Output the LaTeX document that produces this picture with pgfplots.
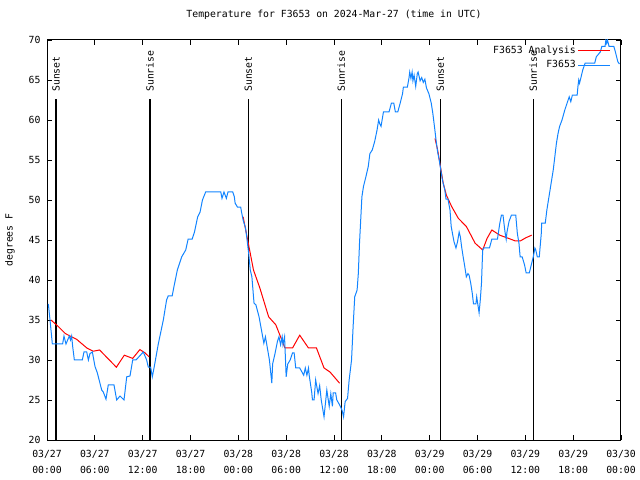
\documentclass[border=0pt]{standalone}
\usepackage{fontspec}
\setmainfont{DejaVu Sans Mono}
\usepackage{pgfplots}
\pgfplotsset{compat=1.18}
\definecolor{obsblue}{RGB}{18,132,255}
\begin{document}
\fontsize{9.8bp}{12bp}\selectfont
\begin{tikzpicture}
\useasboundingbox (0,0) rectangle (640bp,480bp);
\begin{axis}[
  at={(47bp,40bp)}, anchor=south west,
  scale only axis, width=574bp, height=400bp,
  xmin=0, xmax=72, ymin=20, ymax=70,
  xtick={0,6,...,72},
  xticklabels={{03/27\\00:00},{03/27\\06:00},{03/27\\12:00},{03/27\\18:00},{03/28\\00:00},{03/28\\06:00},{03/28\\12:00},{03/28\\18:00},{03/29\\00:00},{03/29\\06:00},{03/29\\12:00},{03/29\\18:00},{03/30\\00:00}},
  ytick={20,25,...,70},
  tick align=inside, major tick length=5bp,
  tick style={black, line width=0.8bp},
  axis line style={black, line width=1bp},
  xticklabel style={align=center, font=\fontsize{9.8bp}{16bp}\selectfont, yshift=-7bp},
  yticklabel style={font=\fontsize{9.8bp}{12bp}\selectfont, xshift=-3bp},
  /pgf/number format/assume math mode=true,
  title={Temperature for F3653 on 2024-Mar-27 (time in UTC)},
  title style={at={(axis description cs:0.5,1)}, anchor=base, yshift=17bp, font=\fontsize{9.8bp}{12bp}\selectfont},
  ylabel={degrees F},
  ylabel style={at={(axis description cs:-0.0645,0.5)}, anchor=center, font=\fontsize{9.8bp}{12bp}\selectfont},
  unbounded coords=jump,
  legend style={draw=none, fill=none, at={(axis description cs:1,1)}, anchor=north east, xshift=-10bp, yshift=-4bp, font=\fontsize{9.8bp}{12bp}\selectfont, row sep=1.5bp, inner sep=0pt},
  legend cell align=right,
  legend plot pos=right,
  legend image code/.code={\draw[#1, line width=1bp] (0bp,0bp) -- (32bp,0bp);},
]
% sunrise / sunset lines
\addplot[black, line width=1.5bp, forget plot] coordinates {(1.13,20) (1.13,62.6)};
\addplot[black, line width=1.5bp, forget plot] coordinates {(12.92,20) (12.92,62.6)};
\addplot[black, line width=1.5bp, forget plot] coordinates {(25.25,20) (25.25,62.6)};
\addplot[black, line width=1.5bp, forget plot] coordinates {(36.92,20) (36.92,62.6)};
\addplot[black, line width=1.5bp, forget plot] coordinates {(49.33,20) (49.33,62.6)};
\addplot[black, line width=1.5bp, forget plot] coordinates {(61.0,20) (61.0,62.6)};
\node[rotate=90, anchor=west, inner sep=0pt] at (axis cs:1.13,63.5) {Sunset};
\node[rotate=90, anchor=west, inner sep=0pt] at (axis cs:12.92,63.5) {Sunrise};
\node[rotate=90, anchor=west, inner sep=0pt] at (axis cs:25.25,63.5) {Sunset};
\node[rotate=90, anchor=west, inner sep=0pt] at (axis cs:36.92,63.5) {Sunrise};
\node[rotate=90, anchor=west, inner sep=0pt] at (axis cs:49.33,63.5) {Sunset};
\node[rotate=90, anchor=west, inner sep=0pt] at (axis cs:61.0,63.5) {Sunrise};
% analysis
\addplot[red, line width=1bp] coordinates {
(0.5,35.0) (1.4,34.2) (2.3,33.3) (3.7,32.6) (5.0,31.5) (5.8,31.1) (6.6,31.25) (8.7,29.1) (9.7,30.6) (10.75,30.2) (11.65,31.3) (12.29,30.9) (12.8,30.4)
(12.9,nan)
(24.6,47.9) (25.25,44.6) (25.9,41.25) (26.7,39.0) (27.8,35.4) (28.7,34.4) (29.85,31.5) (30.8,31.5) (31.7,33.1) (32.8,31.5) (33.8,31.5) (34.75,29.0) (35.5,28.5) (36.7,27.1)
(37,nan)
(48.67,57.7) (49.0,56.25) (49.7,52.1) (50.1,50.6) (50.75,49.2) (51.6,47.7) (52.6,46.7) (53.7,44.6) (54.65,43.75) (55.2,45.2) (55.8,46.25) (56.8,45.6) (57.9,45.2) (58.7,44.9) (59.4,44.9) (60.1,45.3) (60.8,45.6)
};
\addlegendentry{F3653 Analysis}
% observations
\addplot[obsblue, line width=1bp] coordinates {
(0.17,37) (0.38,35) (0.67,32) (1.96,32) (2.13,33) (2.38,32) (2.80,33) (2.95,32.5) (3.09,33) (3.22,31.7) (3.43,30) (4.43,30) (4.64,31) (4.98,31) (5.19,30) (5.39,30.8) (5.69,31) (6.02,29.2) (6.31,28.4) (6.86,26.25) (7.06,26) (7.40,25.1) (7.69,26.9) (8.40,26.9) (8.74,25) (9.16,25.5) (9.66,25) (10.00,27.9) (10.41,28) (10.75,30) (11.16,30) (12.08,31) (12.50,30) (12.71,29.1) (13.00,29.1) (13.21,27.9) (13.46,29.2) (13.96,32) (14.59,35) (15.0,37.5) (15.2,38) (15.7,38) (15.93,39.2) (16.35,41.25) (16.9,42.9) (17.4,43.75) (17.7,45.1) (18.2,45.1) (18.5,46.0) (18.9,47.9) (19.2,48.5) (19.5,50) (19.9,51) (21.8,51) (21.95,50.2) (22.2,51) (22.5,50.2) (22.7,51) (23.3,51) (23.5,50.4) (23.6,49.6) (23.9,49.1) (24.3,49.1) (24.4,48.5) (24.6,47.5) (24.9,46.5) (25.05,45.4) (25.3,43.3) (25.5,41.25) (25.7,40.4) (25.97,37.1) (26.2,36.9) (26.6,35.4) (26.9,33.75) (27.2,32.1) (27.4,32.9) (27.9,30) (28.2,27.1) (28.3,29.5) (28.6,30.8) (28.9,32.3) (29.1,32.9) (29.3,31.9) (29.5,32.9) (29.6,31.9) (29.8,32.9) (30.0,27.9) (30.2,29.5) (30.5,30) (30.8,30.9) (31.0,30.9) (31.2,29.0) (31.7,29.0) (32.2,28.1) (32.4,29.0) (32.6,28.1) (32.8,29.0) (32.9,28.0) (33.2,26.0) (33.3,25.0) (33.5,25.0) (33.7,27.5) (34.0,25.8) (34.2,26.8) (34.4,25.0) (34.75,22.9) (35.1,26.25) (35.4,24.2) (35.6,25.8) (35.8,24.2) (35.9,25.9) (36.2,25.9) (36.35,25) (36.7,24.4) (37.0,23.75) (37.2,22.9) (37.4,24.8) (37.7,25.2) (37.9,27.5) (38.2,30) (38.4,34.2) (38.6,37.9) (38.9,38.75) (39.05,40.8) (39.2,44.6) (39.5,50.4) (39.7,51.7) (40.0,52.9) (40.3,54.2) (40.5,55.8) (40.8,56.25) (41.1,57.3) (41.4,58.75) (41.6,60) (41.75,59.5) (41.9,59.2) (42.2,61.0) (42.9,61.0) (43.2,62.1) (43.5,62.1) (43.7,61.0) (44.0,61.0) (44.3,62.1) (44.6,63.3) (44.7,64.1) (45.2,64.1) (45.4,65.2) (45.5,66.0) (45.65,65.2) (45.8,66.0) (45.9,64.9) (46.05,65.6) (46.25,64.2) (46.45,65.8) (46.55,66.0) (46.8,64.9) (47.0,65.3) (47.2,64.7) (47.4,65.1) (47.6,64.0) (47.9,63.3) (48.2,62.1) (48.4,60.8) (48.6,59.2) (48.8,57.5) (49.0,56.0) (49.2,55) (49.4,53.75) (49.6,52.5) (49.9,51.25) (50.05,50.1) (50.3,50.1) (50.55,48.75) (50.7,46.7) (50.9,45.6) (51.05,44.8) (51.3,44.0) (51.5,44.8) (51.7,46.0) (51.85,45.4) (52.0,44.2) (52.2,42.9) (52.4,41.7) (52.6,40.4) (52.8,40.8) (52.95,40.6) (53.15,39.6) (53.35,38.3) (53.5,37.0) (53.8,37.0) (53.9,37.9) (54.05,36.9) (54.2,35.9) (54.35,37.5) (54.5,39.6) (54.65,43.75) (54.8,44.0) (55.5,44.0) (55.8,45.1) (56.5,45.1) (56.8,47.1) (57.0,48.1) (57.2,48.1) (57.45,46.0) (57.6,45.1) (57.7,46.0) (57.95,47.3) (58.25,48.1) (58.8,48.1) (59.0,45.8) (59.2,44.6) (59.35,42.9) (59.6,42.9) (59.9,41.9) (60.1,40.9) (60.5,40.9) (60.7,41.7) (61.0,42.9) (61.2,44.0) (61.3,43.8) (61.5,42.9) (61.75,42.9) (62.0,45.8) (62.05,47.1) (62.5,47.1) (62.7,48.75) (62.9,50) (63.1,51.25) (63.3,52.5) (63.5,53.75) (63.7,55.4) (63.9,57.1) (64.1,58.3) (64.3,59.2) (64.6,60) (64.95,61.25) (65.3,62.3) (65.5,62.9) (65.7,62.3) (65.9,63.1) (66.5,63.1) (66.6,64.2) (66.7,65) (66.8,64.6) (67.0,65.4) (67.2,66.25) (67.5,67.1) (68.7,67.1) (68.9,67.9) (69.4,68.5) (69.6,69.2) (70.0,69.2) (70.1,70) (70.2,69.6) (70.3,70) (70.5,69.2) (71.1,69.2) (71.3,68.5) (71.6,67.3) (71.8,67.0)
};
\addlegendentry{F3653}
\end{axis}
\end{tikzpicture}
\end{document}
